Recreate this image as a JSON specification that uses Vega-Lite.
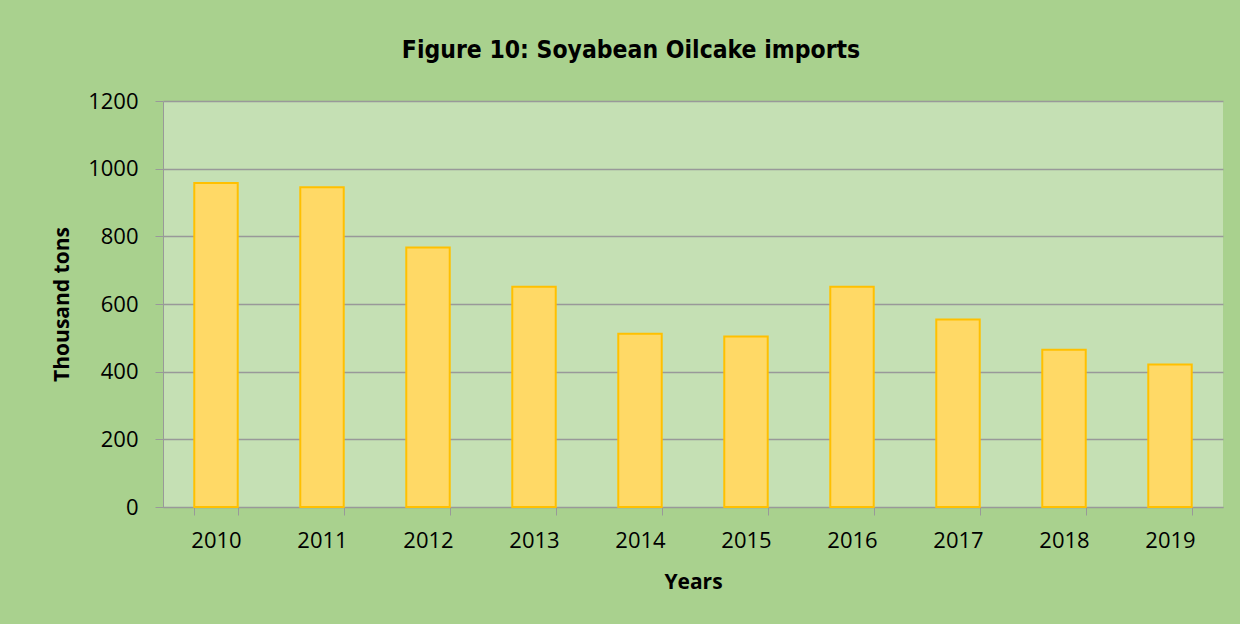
{
  "$schema": "https://vega.github.io/schema/vega-lite/v6.json",
  "width": 1060,
  "height": 406,
  "autosize": {"type": "none"},
  "padding": {"left": 163, "top": 101, "right": 17, "bottom": 117},
  "background": "#A9D18E",
  "title": {
    "text": "Figure 10: Soyabean Oilcake imports",
    "font": "Liberation Sans Narrow, DejaVu Sans Condensed, Roboto, Liberation Sans",
    "fontSize": 24.5,
    "fontWeight": "bold",
    "color": "#000000",
    "anchor": "middle",
    "frame": "group",
    "dx": -62,
    "offset": 27
  },
  "data": {
    "values": [
      {"year": "2010", "value": 958},
      {"year": "2011", "value": 945},
      {"year": "2012", "value": 767},
      {"year": "2013", "value": 651},
      {"year": "2014", "value": 512},
      {"year": "2015", "value": 504},
      {"year": "2016", "value": 651},
      {"year": "2017", "value": 554},
      {"year": "2018", "value": 465},
      {"year": "2019", "value": 421}
    ]
  },
  "mark": {"type": "bar", "fill": "#FFD966", "stroke": "#FFC000", "strokeWidth": 2},
  "encoding": {
    "x": {
      "field": "year",
      "type": "nominal",
      "title": "Years",
      "scale": {"paddingInner": 0.59, "paddingOuter": 0.295},
      "axis": {
        "labelAngle": 0,
        "labelFont": "Open Sans",
        "labelFontSize": 22,
        "labelColor": "#000000",
        "labelPadding": 15,
        "titleFont": "Open Sans",
        "titleFontSize": 21,
        "titleFontWeight": "bold",
        "titleColor": "#000000",
        "titlePadding": 20,
        "tickBand": "extent",
        "tickSize": 8,
        "tickColor": "#999999",
        "domainColor": "#999999",
        "grid": false
      }
    },
    "y": {
      "field": "value",
      "type": "quantitative",
      "title": "Thousand tons",
      "scale": {"domain": [0, 1200], "nice": false},
      "axis": {
        "values": [0, 200, 400, 600, 800, 1000, 1200],
        "format": "d",
        "labelFont": "Open Sans",
        "labelFontSize": 22,
        "labelColor": "#000000",
        "labelPadding": 17,
        "titleFont": "Open Sans",
        "titleFontSize": 21,
        "titleFontWeight": "bold",
        "titleColor": "#000000",
        "titlePadding": 15,
        "tickSize": 8,
        "tickColor": "#999999",
        "domainColor": "#999999",
        "gridColor": "#999999",
        "gridWidth": 1.5
      }
    }
  },
  "config": {
    "view": {"fill": "#C5E0B4", "stroke": null}
  }
}
